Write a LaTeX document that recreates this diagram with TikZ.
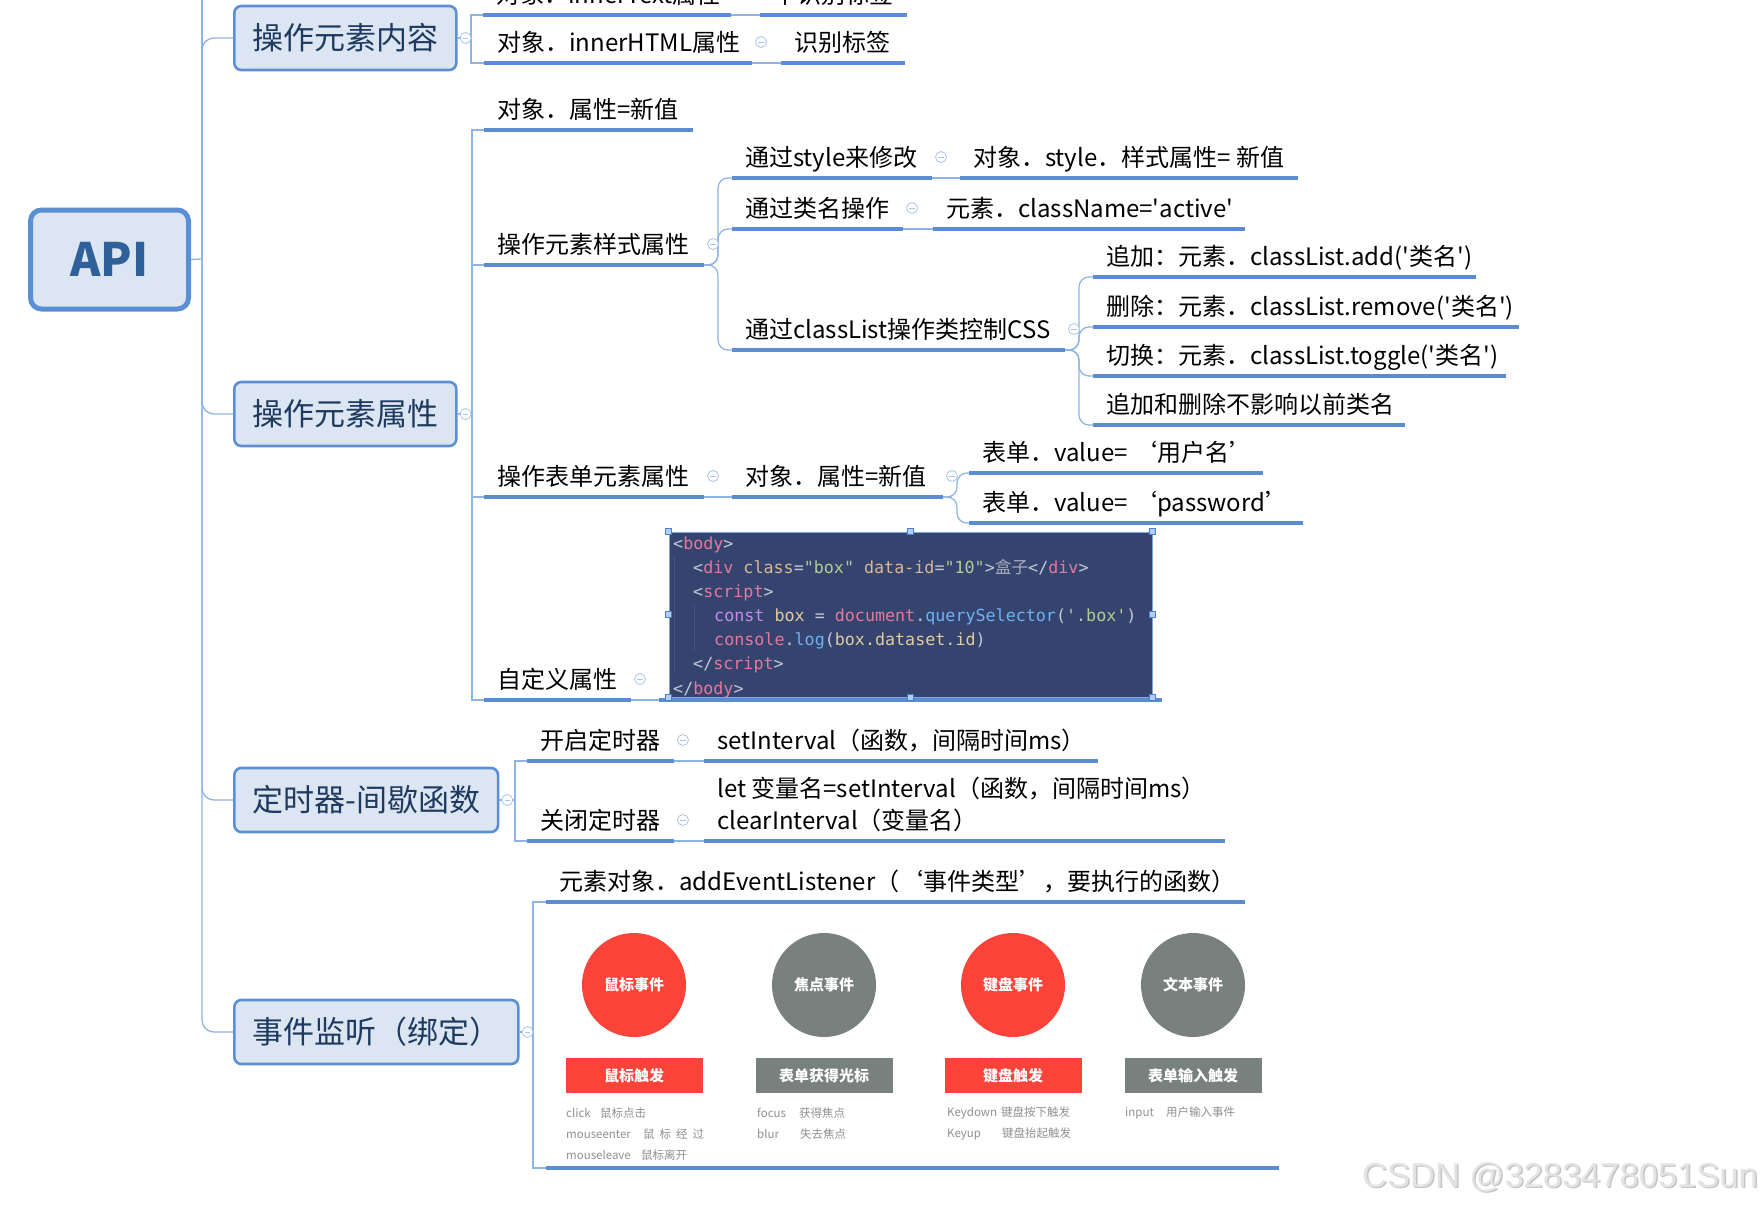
\documentclass[tikz,border=0pt]{standalone}
\usepackage{fontspec}
\setmainfont{Noto Sans CJK SC}[Ligatures=TeXOff]
\newfontfamily\cjkf{Noto Sans CJK SC}[Ligatures=TeXOff]
\newfontfamily\codef{DejaVu Sans Mono}[Ligatures=TeXOff]
\newfontfamily\wmf{Liberation Sans}[Ligatures=TeXOff]
\usetikzlibrary{calc}
\definecolor{connc}{HTML}{8EB4E3}
\definecolor{ulc}{HTML}{5B8BD0}
\definecolor{boxd}{HTML}{5B8FD4}
\definecolor{boxf}{HTML}{DCE6F2}
\definecolor{boxt}{HTML}{1F3A60}
\definecolor{apit}{HTML}{30609A}
\definecolor{circc}{HTML}{A9C4EB}
\definecolor{evred}{HTML}{FB4339}
\definecolor{evgray}{HTML}{78817E}
\definecolor{smallg}{HTML}{8F8F8F}
\definecolor{codebg}{HTML}{35446F}
\definecolor{codebd}{HTML}{7FA6E0}
\definecolor{hdlf}{HTML}{B5CDF2}
\definecolor{hdld}{HTML}{4A7FD0}
\definecolor{guidec}{HTML}{46557F}
\definecolor{cpunct}{HTML}{C5C8D6}
\definecolor{ctag}{HTML}{E5789C}
\definecolor{cattr}{HTML}{D9B893}
\definecolor{cstr}{HTML}{B3CC94}
\definecolor{ckw}{HTML}{C98BE8}
\definecolor{cvar}{HTML}{E2CBA0}
\definecolor{cfun}{HTML}{6DB3F2}
\definecolor{ccjk}{HTML}{A8ABBB}
\definecolor{wmc}{HTML}{E3E3E3}
\definecolor{wms}{HTML}{C4C4C4}
\newcommand\cdp[1]{\textcolor{cpunct}{#1}}
\newcommand\cdt[1]{\textcolor{ctag}{#1}}
\newcommand\cda[1]{\textcolor{cattr}{#1}}
\newcommand\cds[1]{\textcolor{cstr}{#1}}
\newcommand\cdk[1]{\textcolor{ckw}{#1}}
\newcommand\cdv[1]{\textcolor{cvar}{#1}}
\newcommand\cdf[1]{\textcolor{cfun}{#1}}
\newcommand\leafnode[5]{%
  \node[leaf] (#1) at (#2,#3) {#5};
  \coordinate (#1-w) at (#2,#3);
  \coordinate (#1-e) at (#2+#4,#3);
  \draw[uline] (#1-w) -- (#1-e);}
\newcommand\leafcirc[1]{\node[colc] (#1-c) at ($(#1-e)+(9,-21)$) {};}
\begin{document}
\begin{tikzpicture}[x=1pt,y=-1pt,
  conn/.style={draw=connc, line width=1.3pt},
  rconn/.style={conn, rounded corners=10pt},
  uline/.style={draw=ulc, line width=3.8pt},
  leaf/.style={anchor=south west, inner xsep=13pt, inner ysep=7.5pt, text depth=4pt,
    font=\fontsize{24}{32}\selectfont, text=black},
  mainbox/.style={draw=boxd, line width=2.6pt, fill=boxf, rounded corners=7pt,
    text=boxt, font=\fontsize{31}{36}\selectfont, inner xsep=18pt, inner ysep=0pt,
    minimum height=64pt, anchor=west},
  apibox/.style={draw=boxd, line width=5pt, fill=boxf, rounded corners=11pt,
    text=apit, font=\bfseries\fontsize{46}{50}\selectfont, minimum width=158pt,
    minimum height=99pt, inner sep=0pt},
  colc/.style={circle, draw=circc, fill=white, line width=0.8pt, minimum size=11pt,
    inner sep=0pt, path picture={\draw[circc, line width=0.8pt]
      ($(path picture bounding box.center)+(-2.8,0)$) -- ++(5.6,0);}},
  codebox/.style={fill=codebg, draw=codebd, line width=1pt, minimum width=483pt,
    minimum height=165pt, inner sep=0pt},
  codeln/.style={anchor=base west, inner sep=0pt, font=\codef\fontsize{16.7}{20}\selectfont},
  hdl/.style={draw=hdld, fill=hdlf, line width=0.6pt, minimum size=6pt, inner sep=0pt},
  guide/.style={draw=guidec, line width=1pt},
  evcirc/.style={circle, minimum size=104pt, inner sep=0pt, text=white,
    font=\bfseries\fontsize{15}{18}\selectfont},
  evrect/.style={minimum width=137pt, minimum height=35pt, inner sep=0pt, text=white,
    font=\bfseries\fontsize{15}{18}\selectfont},
  evsmall/.style={anchor=west, inner sep=0pt, text=smallg, font=\fontsize{11.5}{13}\selectfont},
  wm/.style={anchor=east, inner sep=0pt, font=\wmf\fontsize{34.5}{38}\selectfont}
]
\useasboundingbox (0,0) rectangle (1763,1204);
\clip (0,0) rectangle (1763,1204);

% ---------- root and main boxes ----------
\node[apibox] (api) at (109.5,259.5) {API};
\node[mainbox] (b1) at (233,38) {操作元素内容};
\node[mainbox] (b2) at (233,414) {操作元素属性};
\node[mainbox] (b3) at (233,800) {定时器-间歇函数};
\node[mainbox] (b4) at (233,1032) {事件监听（绑定）};

% ---------- leaves ----------
\leafnode{t0}{483}{15}{248}{对象．innerText属性}
\leafnode{t0v}{760}{15}{147}{不识别标签}
\leafnode{t1}{484}{63}{268}{对象．innerHTML属性}
\leafnode{t1v}{781}{63}{124}{识别标签}
\leafnode{p1}{484}{130}{209}{对象．属性=新值}
\leafnode{p2}{484}{265}{220}{操作元素样式属性}
\leafnode{s1}{732}{178}{200}{通过style来修改}
\leafnode{s1v}{960}{178}{338}{对象．style．样式属性= 新值}
\leafnode{s2}{732}{229}{171}{通过类名操作}
\leafnode{s2v}{933}{229}{312}{元素．className='active'}
\leafnode{s3}{732}{350}{333}{通过classList操作类控制CSS}
\leafnode{c1}{1093}{277}{383}{追加：元素．classList.add('类名')}
\leafnode{c2}{1093}{327}{426}{删除：元素．classList.remove('类名')}
\leafnode{c3}{1093}{376}{413}{切换：元素．classList.toggle('类名')}
\leafnode{c4}{1093}{425}{312}{追加和删除不影响以前类名}
\leafnode{p3}{484}{497}{220}{操作表单元素属性}
\leafnode{q2}{732}{497}{211}{对象．属性=新值}
\leafnode{f1}{969}{473}{294}{表单．value= ‘用户名’}
\leafnode{f2}{969}{523}{334}{表单．value= ‘password’}
\leafnode{p4}{484}{700}{147}{自定义属性}
\leafnode{on}{527}{761}{147}{开启定时器}
\leafnode{onv}{704}{761}{394}{setInterval（函数，间隔时间ms）}
\leafnode{off}{527}{841}{147}{关闭定时器}
\leafnode{offv}{704}{841}{521}{\begin{tabular}[b]{@{}l@{}}let 变量名=setInterval（函数，间隔时间ms）\\clearInterval（变量名）\end{tabular}}
\leafnode{ev1}{546}{902}{699}{元素对象．addEventListener（‘事件类型’，要执行的函数）}

% ---------- code image ----------
\node[codebox] (code) at (910.5,614.5) {};
\coordinate (code-w) at (659,700);
\coordinate (code-e) at (1162,700);
\draw[uline] (code-w) -- (code-e);
\draw[guide] (674,557) -- (674,673);
\draw[guide] (694,605) -- (694,650);
\node[codeln] (cl1) at (673,549) {\cdp{<}\cdt{body}\cdp{>}};
\node[codeln] (cl2) at (693,573) {\cdp{<}\cdt{div} \cda{class}\cdp{=}\cds{"box"} \cda{data-id}\cdp{=}\cds{"10"}\cdp{>}{\cjkf\textcolor{ccjk}{盒子}}\cdp{</}\cdt{div}\cdp{>}};
\node[codeln] (cl3) at (693,597) {\cdp{<}\cdt{script}\cdp{>}};
\node[codeln] (cl4) at (714,621) {\cdk{const} \cdv{box} \cdp{=} \cdt{document}\cdp{.}\cdf{querySelector}\cdp{(}\cds{'.box'}\cdp{)}};
\node[codeln] (cl5) at (714,645) {\cdt{console}\cdp{.}\cdf{log}\cdp{(}\cdv{box.dataset.id}\cdp{)}};
\node[codeln] (cl6) at (693,669) {\cdp{</}\cdt{script}\cdp{>}};
\node[codeln] (cl7) at (673,694) {\cdp{</}\cdt{body}\cdp{>}};
\foreach \a [count=\i] in {north west, north, north east, west, east, south west, south, south east}
  \node[hdl] (h\i) at (code.\a) {};

% ---------- event panel ----------
\foreach \cx/\col/\ct/\rt [count=\i] in {634/evred/鼠标事件/鼠标触发, 824/evgray/焦点事件/表单获得光标, 1013/evred/键盘事件/键盘触发, 1193/evgray/文本事件/表单输入触发} {
  \node[evcirc, fill=\col] (ec\i) at (\cx,985) {\ct};
  \node[evrect, fill=\col] (er\i) at (\cx,1075.5) {\rt};
}
\node[evsmall] (es11) at (566,1113) {\makebox[34pt][l]{click}鼠标点击};
\node[evsmall] (es12) at (566,1134) {\makebox[77pt][l]{mouseenter}鼠\hspace{5pt}标\hspace{5pt}经\hspace{5pt}过};
\node[evsmall] (es13) at (566,1155) {\makebox[75pt][l]{mouseleave}鼠标离开};
\node[evsmall] (es21) at (757,1113) {\makebox[42pt][l]{focus}获得焦点};
\node[evsmall] (es22) at (757,1134) {\makebox[43pt][l]{blur}失去焦点};
\node[evsmall] (es31) at (947,1113) {\makebox[54pt][l]{Keydown}键盘按下触发};
\node[evsmall] (es32) at (947,1134) {\makebox[55pt][l]{Keyup}键盘抬起触发};
\node[evsmall] (es41) at (1125,1113) {\makebox[41pt][l]{input}用户输入事件};
\coordinate (evp-w) at (546,1168);
\coordinate (evp-e) at (1279,1168);
\draw[uline] (evp-w) -- (evp-e);

% ---------- connectors ----------
\coordinate (tj) at (202,259);
\coordinate (ttop) at (202,-5);
\draw[conn] (api.east) -- (tj);
\draw[conn] (tj) -- (ttop);
\draw[conn, rounded corners=12pt] (tj) |- (b1.west);
\draw[conn, rounded corners=12pt] (tj) |- (b2.west);
\draw[conn, rounded corners=12pt] (tj) |- (b3.west);
\draw[conn, rounded corners=12pt] (tj) |- (b4.west);

\coordinate (b1j) at (471,38);
\draw[conn] (b1.east) -- (b1j);
\draw[conn] (b1j) |- (t0-w);
\draw[conn] (b1j) |- (t1-w);
\draw[conn] (t0-e) -- (t0v-w);
\draw[conn] (t1-e) -- (t1v-w);

\coordinate (b2j) at (472,414);
\draw[conn] (b2.east) -- (b2j);
\draw[conn] (b2j) |- (p1-w);
\draw[conn] (b2j) |- (p2-w);
\draw[conn] (b2j) |- (p3-w);
\draw[conn] (b2j) |- (p4-w);

\coordinate (p2j) at (718,265);
\draw[rconn] (p2-e) -- (p2j) |- (s1-w);
\draw[rconn] (p2-e) -- (p2j) |- (s2-w);
\draw[rconn] (p2-e) -- (p2j) |- (s3-w);
\draw[conn] (s1-e) -- (s1v-w);
\draw[conn] (s2-e) -- (s2v-w);

\coordinate (s3j) at (1079,350);
\draw[rconn] (s3-e) -- (s3j) |- (c1-w);
\draw[rconn] (s3-e) -- (s3j) |- (c2-w);
\draw[rconn] (s3-e) -- (s3j) |- (c3-w);
\draw[rconn] (s3-e) -- (s3j) |- (c4-w);

\draw[conn] (p3-e) -- (q2-w);
\coordinate (q2j) at (957,497);
\draw[rconn] (q2-e) -- (q2j) |- (f1-w);
\draw[rconn] (q2-e) -- (q2j) |- (f2-w);

\draw[conn] (p4-e) -- (code-w);

\coordinate (b3j) at (515,800);
\draw[conn] (b3.east) -- (b3j);
\draw[conn] (b3j) |- (on-w);
\draw[conn] (b3j) |- (off-w);
\draw[conn] (on-e) -- (onv-w);
\draw[conn] (off-e) -- (offv-w);

\coordinate (b4j) at (533,1032);
\draw[conn] (b4.east) -- (b4j);
\draw[conn] (b4j) |- (ev1-w);
\draw[conn] (b4j) |- (evp-w);

% ---------- collapse circles ----------
\node[colc] (b1-c) at ($(b1.east)+(8,0)$) {};
\node[colc] (b2-c) at ($(b2.east)+(8,0)$) {};
\node[colc] (b3-c) at ($(b3.east)+(8,0)$) {};
\node[colc] (b4-c) at ($(b4.east)+(8,0)$) {};
\leafcirc{t0}
\leafcirc{t1}
\leafcirc{p2}
\leafcirc{s1}
\leafcirc{s2}
\leafcirc{s3}
\leafcirc{p3}
\leafcirc{q2}
\leafcirc{p4}
\leafcirc{on}
\leafcirc{off}

% ---------- watermark ----------
\node[wm, text=wms] (wmsh) at (1759.5,1178.5) {CSDN @3283478051Sun};
\node[wm, text=wmc] (wmk) at (1758,1177) {CSDN @3283478051Sun};
\end{tikzpicture}
\end{document}
